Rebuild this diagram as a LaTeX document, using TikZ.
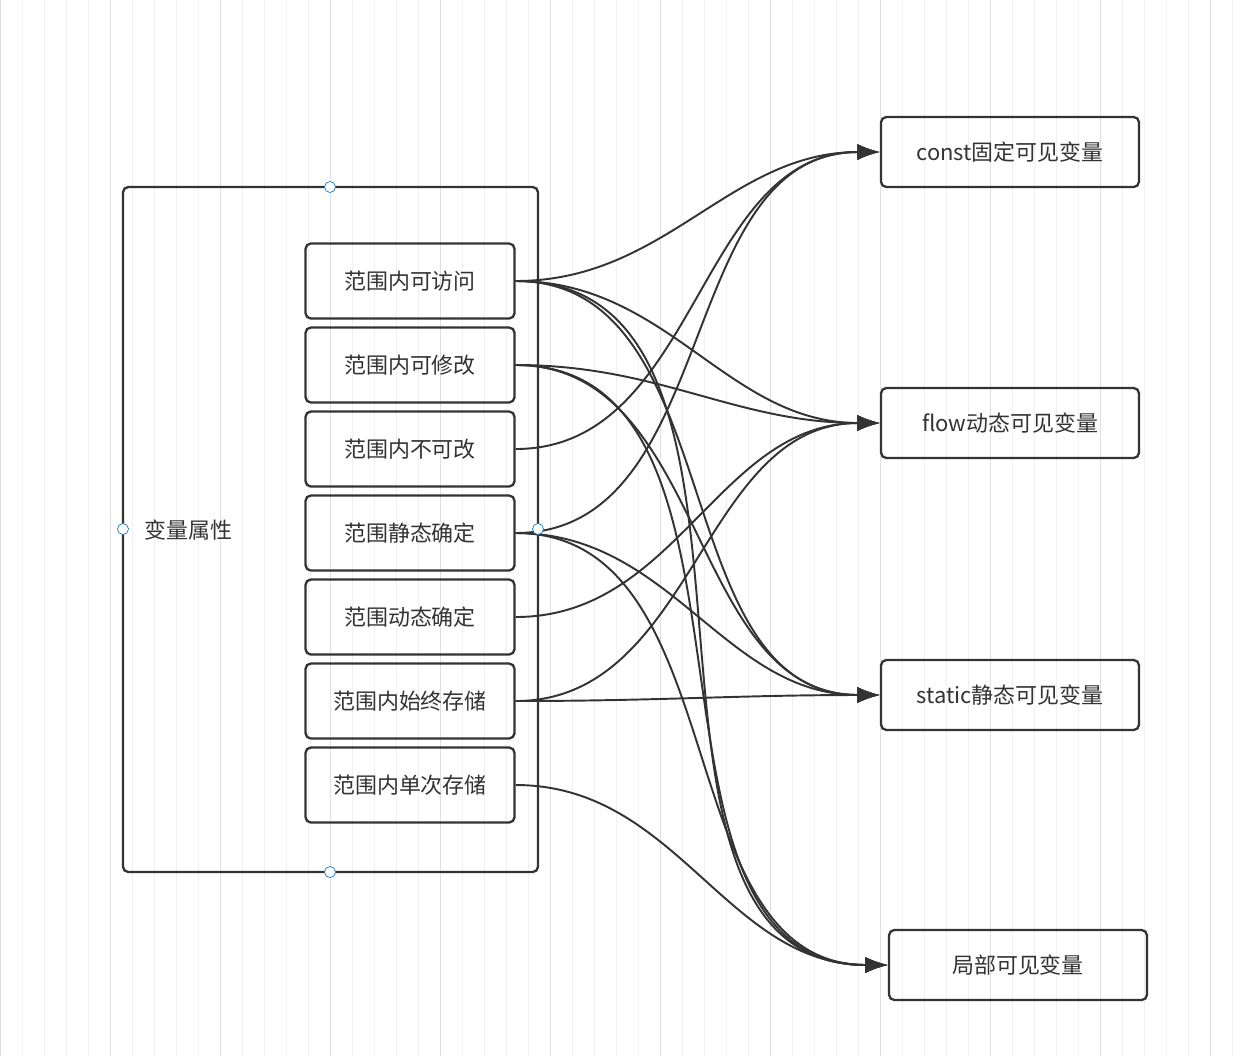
\documentclass[tikz,border=0pt]{standalone}
\usepackage{fontspec}
\setmainfont{Noto Sans CJK SC}
\usetikzlibrary{arrows.meta}

\begin{document}
\begin{tikzpicture}[x=0.02cm,y=-0.02cm,>={Latex[length=4.5mm,width=3.2mm]},
  attr/.style={draw=black!80, line width=1.3pt, rounded corners=3pt, minimum width=4.18cm, minimum height=1.5cm, font=\fontsize{12.5}{15}\selectfont, text=black!80},
  kind/.style={draw=black!80, line width=1.3pt, rounded corners=3pt, minimum width=5.16cm, minimum height=1.4cm, font=\fontsize{12.5}{15}\selectfont, text=black!80},
  link/.style={->, draw=black!80, line width=1.1pt},
  handle/.style={circle, draw=cyan!60!blue, fill=white, inner sep=0pt, minimum size=2.2mm}]

% background grid
\useasboundingbox (0,0) rectangle (1246,1056);
\fill[white] (0,0) rectangle (1246,1056);
\draw[black!6, line width=0.4pt] (0,0) grid[step=22] (1246,1056);
\draw[black!12, line width=0.5pt] (0,0) grid[step=110] (1246,1056);

% outer group
\draw[black!80, line width=1.3pt, rounded corners=3pt] (123,187) rectangle (538,872);
\node[anchor=west, font=\fontsize{12.5}{15}\selectfont, text=black!80] (group) at (138,530) {变量属性};

% attributes
\node[attr] (access) at (410,281) {范围内可访问};
\node[attr] (modify) at (410,365) {范围内可修改};
\node[attr] (fixed)  at (410,449) {范围内不可改};
\node[attr] (static) at (410,533) {范围静态确定};
\node[attr] (dyn)    at (410,617) {范围动态确定};
\node[attr] (always) at (410,701) {范围内始终存储};
\node[attr] (once)   at (410,785) {范围内单次存储};

% variable kinds
\node[kind] (const) at (1010,152) {const固定可见变量};
\node[kind] (flow)  at (1010,423) {flow动态可见变量};
\node[kind] (stat)  at (1010,695) {static静态可见变量};
\node[kind] (local) at (1018,965) {局部可见变量};

% connectors
\foreach \a/\b in {access/const, fixed/const, static/const,
                   access/flow, modify/flow, dyn/flow, always/flow,
                   access/stat, modify/stat, static/stat, always/stat,
                   access/local, modify/local, static/local, once/local}
  \draw[link] (\a.east) to[out=0, in=180] (\b.west);

% handles
\node[handle] (h1) at (330,187) {};
\node[handle] (h2) at (330,872) {};
\node[handle] (h3) at (123,529) {};
\node[handle] (h4) at (538,529) {};
\end{tikzpicture}
\end{document}
